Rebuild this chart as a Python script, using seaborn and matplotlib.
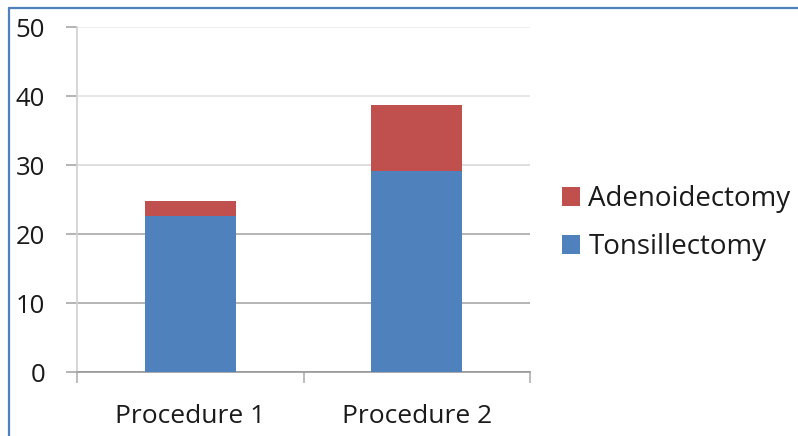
import pandas as pd
import numpy as np
import matplotlib
matplotlib.use('Agg')
import matplotlib.pyplot as plt
import seaborn as sns
from matplotlib.lines import Line2D
from matplotlib.patches import Patch

# data
procedures = ['Procedure 1', 'Procedure 2']
tonsillectomy = [22.6, 29.2]
adenoidectomy = [2.2, 9.5]

BLUE = '#4f81bd'
RED = '#c0504d'

df = pd.DataFrame({'procedure': procedures,
                   'tonsillectomy': tonsillectomy,
                   'adenoidectomy': adenoidectomy})
df['total'] = df['tonsillectomy'] + df['adenoidectomy']

sns.set_style('white')
plt.rcParams['font.family'] = ['Open Sans', 'DejaVu Sans']

fig = plt.figure(figsize=(7.98, 4.36), dpi=100)
ax = fig.add_axes([77 / 798, 1 - 372 / 436, (530 - 77) / 798, (372 - 27.5) / 436])

# stacked bars: total in red, tonsillectomy drawn over it in blue
sns.barplot(data=df, x='procedure', y='total', color=RED, width=0.4,
            saturation=1, order=procedures, ax=ax, zorder=3, linewidth=0)
sns.barplot(data=df, x='procedure', y='tonsillectomy', color=BLUE, width=0.4,
            saturation=1, order=procedures, ax=ax, zorder=4, linewidth=0)

ax.set_xlim(-0.5, 1.5)
ax.set_ylim(0, 50)
ax.set_yticks(np.arange(0, 51, 10))
ax.set_xlabel('')
ax.set_ylabel('')

# gridlines (they look darker near the bottom in the reference)
ax.grid(axis='y', linewidth=1.2, zorder=0)
ax.set_axisbelow(True)
grid_cols = ['#9a9a9a', '#a8a8a8', '#a8a8a8', '#d8d8d8', '#e4e4e4', '#ebebeb']
for gl, c in zip(ax.get_ygridlines(), grid_cols):
    gl.set_color(c)

# spines
for s in ['top', 'right']:
    ax.spines[s].set_visible(False)
ax.spines['left'].set_color('#d0d0d0')
ax.spines['left'].set_linewidth(1.2)
ax.spines['left'].set_bounds(0, 50)
ax.spines['bottom'].set_color('#9a9a9a')
ax.spines['bottom'].set_linewidth(1.2)

# ticks
ax.tick_params(axis='y', length=8, width=1.2, color='#a8a8a8', pad=15,
               labelsize=18.5, labelcolor='#1a1a1a', left=True)
ax.tick_params(axis='x', which='major', length=0, pad=23, labelsize=19,
               labelcolor='#1a1a1a')
ax.set_xticks([-0.5, 0.5, 1.5], minor=True)
ax.tick_params(axis='x', which='minor', length=8, width=1.2, color='#b0b0b0',
               bottom=True)

# legend, Excel style (top series first)
handles = [Patch(facecolor=RED, edgecolor='none'),
           Patch(facecolor=BLUE, edgecolor='none')]
fig.legend(handles, ['Adenoidectomy', 'Tonsillectomy'], loc='center left',
           bbox_to_anchor=(562 / 798, 1 - 223 / 436), frameon=False,
           fontsize=20, handlelength=0.65, handleheight=0.65,
           handletextpad=0.3, labelspacing=0.72, borderpad=0,
           borderaxespad=0, labelcolor='#1a1a1a')

# blue frame from the screenshot
fig.add_artist(Line2D([9 / 798, 9 / 798], [0, 1 - 8 / 436], color=BLUE,
                      linewidth=1.6, transform=fig.transFigure))
fig.add_artist(Line2D([9 / 798, 1], [1 - 8 / 436, 1 - 8 / 436], color=BLUE,
                      linewidth=1.6, transform=fig.transFigure))

fig.savefig('out.png', dpi=100)
